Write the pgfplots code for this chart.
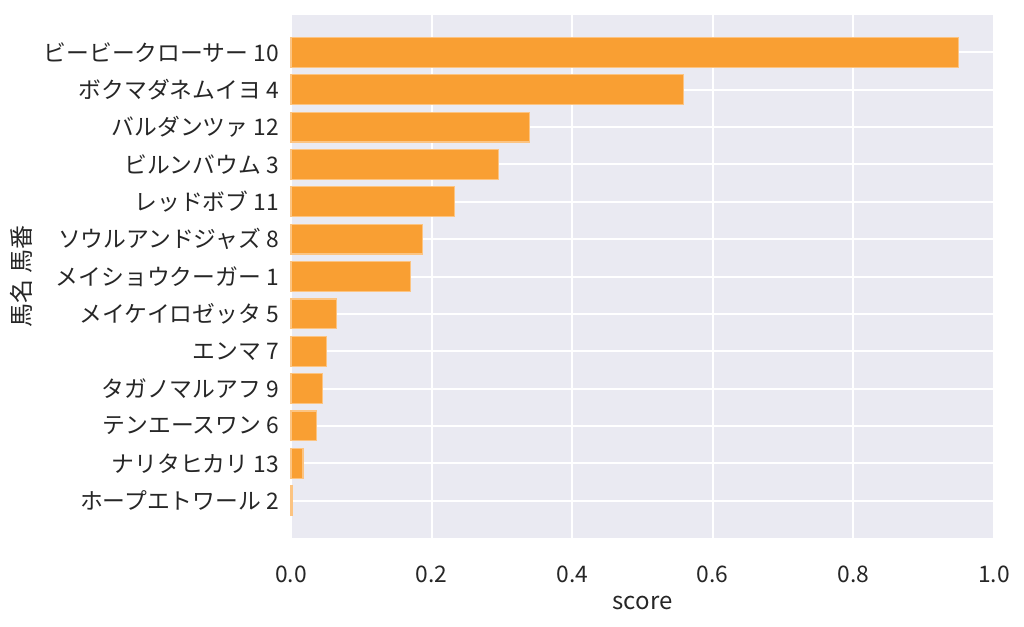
\documentclass[border=0pt]{standalone}
\usepackage{pgfplots}
\pgfplotsset{compat=1.18}
\usepackage{fontspec}
\setmainfont{Noto Sans CJK JP}
\usetikzlibrary{calc}
\definecolor{bgc}{RGB}{234,234,242}
\definecolor{barc}{RGB}{249,159,51}
\definecolor{edgec}{RGB}{252,196,130}
\definecolor{txt}{RGB}{38,38,38}
\begin{document}
\begin{tikzpicture}
\begin{axis}[
  name=ax,
  scale only axis,
  width=351.5pt, height=261.5pt,
  xmin=0, xmax=1,
  ymin=-1, ymax=13,
  y dir=reverse,
  axis background/.style={fill=bgc},
  axis line style={draw=none},
  major tick length=0pt,
  grid=major,
  major grid style={white, line width=1pt},
  xtick={0,0.2,0.4,0.6,0.8,1.0},
  /pgf/number format/fixed,
  /pgf/number format/fixed zerofill,
  /pgf/number format/precision=1,
  /pgf/number format/assume math mode=true,
  ytick={0,...,12},
  yticklabels={ビービークローサー 10, ボクマダネムイヨ 4, バルダンツァ 12, ビルンバウム 3, レッドボブ 11, ソウルアンドジャズ 8, メイショウクーガー 1, メイケイロゼッタ 5, エンマ 7, タガノマルアフ 9, テンエースワン 6, ナリタヒカリ 13, ホープエトワール 2},
  ticklabel style={font=\fontsize{11.4}{13}\selectfont, text=txt},
  xticklabel style={yshift=-10.5pt},
  yticklabel style={xshift=-2.5pt},
  xlabel={score},
  ylabel={馬名 馬番},
  label style={font=\fontsize{12}{14}\selectfont, text=txt},
  xlabel style={yshift=0.5pt},
  ylabel style={yshift=-1pt},
  xbar, bar width=0.8, bar shift=0pt,
  clip=false,
]
\addplot[fill=barc, draw=edgec, line width=0.6pt] coordinates {
(0.950,0) (0.558,1) (0.339,2) (0.295,3) (0.233,4) (0.187,5) (0.170,6)
(0.065,7) (0.050,8) (0.045,9) (0.036,10) (0.017,11) (0.002,12)
};
\end{axis}
\pgfresetboundingbox
\path[use as bounding box] ($(ax.south west)+(-145.5pt,-44.5pt)$) rectangle ($(ax.north east)+(15pt,7.5pt)$);
\end{tikzpicture}
\end{document}
